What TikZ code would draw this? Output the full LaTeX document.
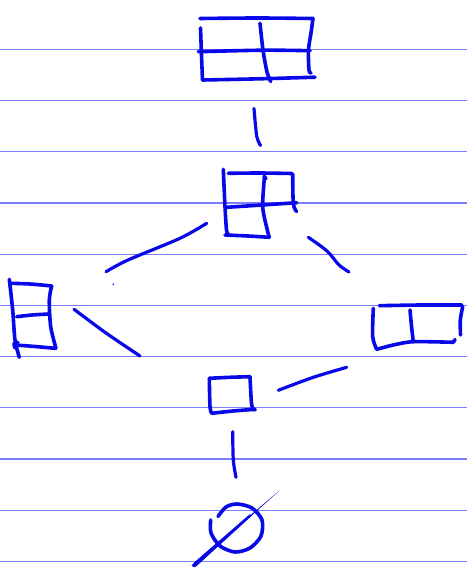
\documentclass[tikz,border=0pt]{standalone}
\definecolor{pen}{RGB}{8,8,232}
\definecolor{rule}{RGB}{125,125,255}
\tikzset{
  penstroke/.style={draw=pen,line width=3.6pt,line cap=round,line join=round},
  ruleline/.style={draw=rule,line width=1.2pt},
  linkstroke/.style={penstroke,line width=3.2pt},
}
\begin{document}
\begin{tikzpicture}[x=1pt,y=-1pt]
\useasboundingbox[fill=white] (0,0) rectangle (467,567);
% ruled paper
\foreach \k in {0,...,10}{
  \draw[ruleline] (0,{49.3+51.2*\k}) -- (467,{49.3+51.2*\k});
}
% ---------- top shape: 2x2 ----------
\node[inner sep=0pt,minimum size=0pt] (topdiag) at (257,50) {};
\draw[penstroke] plot[smooth] coordinates {(200,18.5) (257,18) (313,18.5)};
\draw[penstroke] plot[smooth] coordinates {(200.5,28) (201.5,55) (202.5,80)};
\draw[penstroke] plot[smooth] coordinates {(202.5,80) (260,78.8) (315,77.2)};
\draw[penstroke] plot[smooth] coordinates {(313,18.5) (311,33) (308.5,50) (309,70) (311,73)};
\draw[penstroke] plot[smooth] coordinates {(198.3,51.7) (263,50.2) (310,50.7)};
\draw[penstroke] plot[smooth] coordinates {(260,23.3) (263,50) (267,72) (270.7,81.5)};
% connector top -> middle
\coordinate (c1a) at (254,108.5);
\coordinate (c1m) at (256.7,136);
\coordinate (c1b) at (260.5,145.5);
\draw[linkstroke] plot[smooth] coordinates {(c1a) (c1m) (c1b)};
% ---------- second shape: (2,1) ----------
\node[inner sep=0pt,minimum size=0pt] (middiag) at (260,205) {};
\draw[penstroke] plot[smooth] coordinates {(223.3,169.3) (225,206.7) (226.5,230) (228,233)};
\draw[penstroke] plot[smooth] coordinates {(228.3,173.3) (260,173) (291.7,173.5)};
\draw[penstroke] plot[smooth] coordinates {(292.7,174) (293.3,203.3) (296.5,211.5)};
\draw[penstroke] plot[smooth] coordinates {(226.7,207.3) (262,205) (296.7,202.7)};
\draw[penstroke] plot[smooth] coordinates {(264.5,176.5) (262.7,206.7) (267.3,230) (269.3,237.3)};
\draw[penstroke] (264,176.3) -- (266,178.5);
\draw[penstroke] plot[smooth] coordinates {(225,235) (248,236) (269.3,237.3)};
% connector middle -> left
\coordinate (c2a) at (206.7,223.3);
\coordinate (c2b) at (106,271.7);
\draw[linkstroke] plot[smooth] coordinates {(c2a) (180,238.3) (128,260) (c2b)};
\fill[pen] (113.3,284.3) circle (0.9pt);
% connector middle -> right
\coordinate (c3a) at (308.3,237.3);
\coordinate (c3b) at (349,272);
\draw[linkstroke] plot[smooth] coordinates {(c3a) (327,251) (339,265) (c3b)};
% ---------- left shape: (1,1) ----------
\node[inner sep=0pt,minimum size=0pt] (leftdiag) at (32,316) {};
\draw[penstroke] plot[smooth] coordinates {(9.3,279.3) (12.7,310) (15,340) (19.3,357.3)};
\draw[penstroke] plot[smooth] coordinates {(10,283.3) (30,284) (51.7,286)};
\draw[penstroke] plot[smooth] coordinates {(51.7,286) (49.3,300) (50.7,326.7) (56,348.3)};
\draw[penstroke] plot[smooth] coordinates {(16.7,316.7) (32,315) (48.3,314)};
\draw[penstroke] plot[smooth] coordinates {(15,345) (35,346.5) (55,348.3)};
\draw[penstroke] plot[smooth] coordinates {(18,342.5) (14,343.5) (15,348)};
% connector left -> bottom
\coordinate (c4a) at (74,309.3);
\coordinate (c4b) at (140,356);
\draw[linkstroke] plot[smooth] coordinates {(c4a) (106,333) (c4b)};
% ---------- right shape: (2) ----------
\node[inner sep=0pt,minimum size=0pt] (rightdiag) at (417,326) {};
\draw[penstroke] plot[smooth] coordinates {(379.3,305.7) (420,305) (461.7,305)};
\draw[penstroke] plot[smooth] coordinates {(373.3,308.3) (372.7,336.7) (376.7,349.3)};
\draw[penstroke] plot[smooth] coordinates {(376.7,349.3) (393.3,345) (413.3,341.7) (453.3,342.3)};
\draw[penstroke] (453.3,342.3) -- (455,339.5);
\draw[penstroke] plot[smooth] coordinates {(410,310) (411.5,326) (413.3,341.7)};
\draw[penstroke] plot[smooth] coordinates {(462.7,306.7) (460.3,320) (460.5,335)};
% connector right -> bottom
\coordinate (c5a) at (346.7,367.3);
\coordinate (c5b) at (278.3,390.3);
\draw[linkstroke] plot[smooth] coordinates {(c5a) (313.3,377.3) (c5b)};
% ---------- bottom shape: (1) ----------
\node[inner sep=0pt,minimum size=0pt] (botdiag) at (231,395) {};
\draw[penstroke] plot[smooth] coordinates {(209.3,378.3) (230,377.3) (250,376.7)};
\draw[penstroke] plot[smooth] coordinates {(209.3,378.3) (210,406.7) (211.7,413.3)};
\draw[penstroke] plot[smooth] coordinates {(211.7,413.3) (233,411) (255,409.3)};
\draw[penstroke] plot[smooth] coordinates {(250,376.7) (251.7,405) (255,410)};
% connector bottom -> empty
\coordinate (c6a) at (232.7,431.7);
\coordinate (c6b) at (236,477.3);
\draw[linkstroke] plot[smooth] coordinates {(c6a) (233.3,460) (c6b)};
% ---------- empty set ----------
\node[inner sep=0pt,minimum size=0pt] (emptyset) at (236.7,527.5) {};
\draw[penstroke] plot[smooth] coordinates {(218,516.5) (226,507) (237,504) (252,508) (262,520) (261,536) (250,548) (235,552) (220,546) (211,533) (210.7,520)};
\fill[pen] (191.5,565.5) -- (194.5,562.5) -- (279.5,490.5) -- (278.5,491.5) -- (194.5,567) -- cycle;
\fill[pen,rounded corners=1pt] (192,566.5) -- (193.5,563) -- (250,514) -- (252,515.5) -- (195,567.5) -- cycle;
\end{tikzpicture}
\end{document}
